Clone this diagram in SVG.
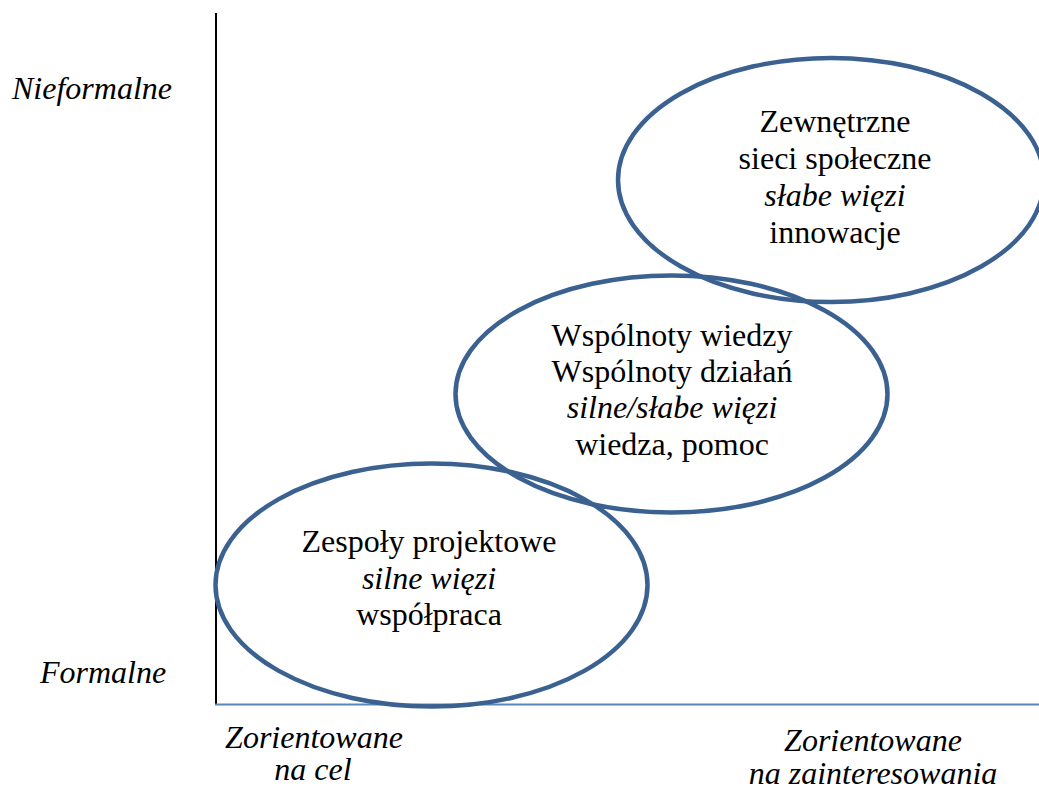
<svg xmlns="http://www.w3.org/2000/svg" width="1039" height="789" viewBox="0 0 1039 789">
<style>
.t{font-family:"Liberation Serif","Times New Roman",serif;font-size:32px;fill:#000;text-anchor:middle}
.i{font-style:italic}
.e{fill:none;stroke:#3b6190;stroke-width:4.5}
</style>
<rect width="1039" height="789" fill="#fff"/>
<g id="axes">
<line x1="216" y1="13" x2="216" y2="705" stroke="#000" stroke-width="2"/>
<line x1="215" y1="704.5" x2="1039" y2="704.5" stroke="#5b86bd" stroke-width="2"/>
</g>
<g id="labels">
<text x="12" y="99" class="t i" style="text-anchor:start">Nieformalne</text>
<text x="40" y="683" class="t i" style="text-anchor:start">Formalne</text>
<text x="314" y="748" class="t i">Zorientowane</text>
<text x="313" y="780" class="t i">na cel</text>
<text x="873" y="751" class="t i">Zorientowane</text>
<text x="873" y="784" class="t i">na zainteresowania</text>
</g>
<g id="node-bottom">
<ellipse class="e" cx="431.5" cy="585" rx="216" ry="121.5"/>
<text x="429" y="552" class="t">Zespoły projektowe</text>
<text x="429" y="589" class="t i">silne więzi</text>
<text x="429" y="625" class="t">współpraca</text>
</g>
<g id="node-middle">
<ellipse class="e" cx="671.5" cy="394" rx="216" ry="118.5"/>
<text x="672" y="346" class="t">Wspólnoty wiedzy</text>
<text x="672" y="382" class="t">Wspólnoty działań</text>
<text x="672" y="418" class="t i">silne/słabe więzi</text>
<text x="672" y="455" class="t">wiedza, pomoc</text>
</g>
<g id="node-top">
<ellipse class="e" cx="831" cy="180" rx="213" ry="122"/>
<text x="835" y="132" class="t">Zewnętrzne</text>
<text x="835" y="169" class="t">sieci społeczne</text>
<text x="835" y="206" class="t i">słabe więzi</text>
<text x="835" y="243" class="t">innowacje</text>
</g>
</svg>
